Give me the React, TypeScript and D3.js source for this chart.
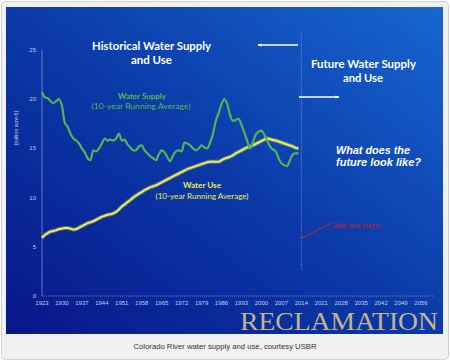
import { useEffect, useRef } from 'react';
import * as d3 from 'd3';

// Water supply, 10-year running average (million acre-ft)
const supplyYears = [
  1923, 1924, 1925, 1926, 1927, 1928, 1929, 1930, 1931, 1932, 1933, 1934, 1935, 1936, 1937, 1938, 1939, 1940,
  1941, 1942, 1943, 1944, 1945, 1946, 1947, 1948, 1949, 1950, 1951, 1952, 1953, 1954, 1955, 1956, 1957, 1958,
  1959, 1960, 1961, 1962, 1963, 1964, 1965, 1966, 1967, 1968, 1969, 1970, 1971, 1972, 1973, 1974, 1975, 1976,
  1977, 1978, 1979, 1980, 1981, 1982, 1983, 1984, 1985, 1986, 1987, 1988, 1989, 1990, 1991, 1992, 1993, 1994,
  1995, 1996, 1997, 1998, 1999, 2000, 2001, 2002, 2003, 2004, 2005, 2006, 2007, 2008, 2009, 2010, 2011, 2012, 2013,
];
const supplyValues = [
  20.7, 20.2, 20.1, 19.8, 19.6, 19.8, 20.0, 19.3, 17.6, 17.2, 16.5, 16.0, 15.8, 15.5, 15.0, 14.6, 14.0, 13.8,
  14.8, 14.7, 15.0, 15.5, 16.0, 15.8, 15.9, 15.8, 16.0, 16.5, 15.8, 15.9, 15.4, 15.1, 14.8, 14.8, 15.2, 15.3,
  14.8, 14.5, 14.2, 14.0, 13.8, 14.4, 14.8, 14.6, 14.1, 13.7, 14.3, 14.7, 14.8, 14.7, 15.6, 15.5, 15.3, 15.0,
  14.8, 15.0, 15.3, 15.1, 15.0, 15.6, 16.5, 17.8, 18.6, 19.5, 20.0, 19.5, 18.4, 17.8, 17.9, 18.0, 17.4, 16.6,
  15.8, 15.0, 15.6, 16.4, 16.7, 16.8, 16.4, 15.8, 15.2, 14.9, 14.7, 14.0, 13.5, 13.3, 13.2, 13.8, 14.4, 14.5, 14.5,
];

// Water use, 10-year running average (million acre-ft)
const useYears = supplyYears;
const useValues = [
  5.9, 6.2, 6.4, 6.55, 6.6, 6.7, 6.8, 6.85, 6.9, 6.9, 6.85, 6.75, 6.8, 6.95, 7.1, 7.25, 7.4, 7.5,
  7.6, 7.75, 7.9, 8.05, 8.15, 8.25, 8.3, 8.4, 8.55, 8.8, 9.1, 9.3, 9.55, 9.75, 10.0, 10.2, 10.4, 10.55,
  10.75, 10.9, 11.05, 11.15, 11.25, 11.4, 11.55, 11.7, 11.85, 12.0, 12.15, 12.3, 12.45, 12.6, 12.75, 12.9, 13.0, 13.1,
  13.2, 13.3, 13.4, 13.5, 13.6, 13.65, 13.65, 13.65, 13.65, 13.8, 13.95, 14.05, 14.15, 14.3, 14.5, 14.65, 14.8, 14.95,
  15.1, 15.2, 15.3, 15.45, 15.6, 15.75, 15.9, 16.0, 15.95, 15.85, 15.8, 15.7, 15.6, 15.5, 15.4, 15.3, 15.2, 15.05, 15.0,
];

const xTicks = [1923, 1930, 1937, 1944, 1951, 1958, 1965, 1972, 1979, 1986, 1993, 2000, 2007, 2014, 2021, 2028, 2035, 2042, 2049, 2056];
const yTicks = [0, 5, 10, 15, 20, 25];
const nowYear = 2014;

const W = 450;
const H = 361;

export default function App() {
  const svgRef = useRef<SVGSVGElement>(null);

  useEffect(() => {
    const svg = d3.select(svgRef.current);
    svg.selectAll('*').remove();

    const x = d3.scaleLinear().domain([1923, 2056]).range([42, 421]);
    const y = d3.scaleLinear().domain([0, 25]).range([296, 50]);

    const defs = svg.append('defs');
    const bg = defs.append('linearGradient')
      .attr('id', 'panel-bg')
      .attr('x1', '0%').attr('y1', '100%')
      .attr('x2', '100%').attr('y2', '0%');
    bg.append('stop').attr('offset', '0%').attr('stop-color', '#08168a');
    bg.append('stop').attr('offset', '50%').attr('stop-color', '#0b3aa8');
    bg.append('stop').attr('offset', '100%').attr('stop-color', '#1766d0');

    const arrow = (id: string, color: string, size: number) => {
      defs.append('marker')
        .attr('id', id)
        .attr('viewBox', '0 0 10 10')
        .attr('refX', 9).attr('refY', 5)
        .attr('markerWidth', size).attr('markerHeight', size)
        .attr('orient', 'auto-start-reverse')
        .append('path')
        .attr('d', 'M0,1 L10,5 L0,9 Z')
        .attr('fill', color);
    };
    arrow('arr-white', '#ffffff', 3);
    arrow('arr-red', '#c8202a', 3.5);

    // outer frame + blue panel
    svg.append('rect')
      .attr('x', 1.5).attr('y', 1.5).attr('width', W - 3).attr('height', H - 3)
      .attr('rx', 4)
      .attr('fill', '#f1f1f1').attr('stroke', '#d2d2d2');
    svg.append('rect')
      .attr('x', 6).attr('y', 7).attr('width', 437).attr('height', 327)
      .attr('fill', 'url(#panel-bg)');

    // axes
    const g = svg.append('g');
    g.append('line')
      .attr('x1', x(1923)).attr('x2', x(1923))
      .attr('y1', y(25)).attr('y2', y(0))
      .attr('stroke', '#8a9ad8').attr('stroke-width', 0.7);
    g.append('line')
      .attr('x1', x(1923)).attr('x2', 433)
      .attr('y1', y(0)).attr('y2', y(0))
      .attr('stroke', '#8a9ad8').attr('stroke-width', 0.8)
      .attr('stroke-dasharray', '1,1');

    g.selectAll('.ytick')
      .data(yTicks)
      .enter().append('text')
      .attr('x', 36)
      .attr('y', d => y(d) + 2)
      .attr('text-anchor', 'end')
      .style('font-family', 'Liberation Sans, Arial, sans-serif')
      .style('font-size', '6px')
      .style('fill', '#c4cce8')
      .text(d => d);

    g.selectAll('.xtick')
      .data(xTicks)
      .enter().append('text')
      .attr('x', d => x(d))
      .attr('y', 305)
      .attr('text-anchor', 'middle')
      .style('font-family', 'Liberation Sans, Arial, sans-serif')
      .style('font-size', '6px')
      .style('fill', '#c4cce8')
      .text(d => d);

    g.append('text')
      .attr('transform', `translate(18,128) rotate(-90)`)
      .attr('text-anchor', 'middle')
      .style('font-family', 'Liberation Sans, Arial, sans-serif')
      .style('font-size', '5.2px')
      .style('fill', '#c4cce8')
      .text('[million acre-ft]');

    // "now" divider
    g.append('line')
      .attr('x1', x(nowYear)).attr('x2', x(nowYear))
      .attr('y1', 33).attr('y2', 270)
      .attr('stroke', '#9fb2e6').attr('stroke-width', 0.7)
      .attr('stroke-dasharray', '1,1.2');

    const supply = supplyYears.map((yr, i) => [yr, supplyValues[i]] as [number, number]);
    const use = useYears.map((yr, i) => [yr, useValues[i]] as [number, number]);

    const line = d3.line<[number, number]>()
      .x(d => x(d[0]))
      .y(d => y(d[1]))
      .curve(d3.curveMonotoneX);

    g.append('path')
      .datum(use)
      .attr('fill', 'none')
      .attr('stroke', '#f0f27a')
      .attr('stroke-opacity', 0.35)
      .attr('stroke-width', 4)
      .attr('d', line);
    g.append('path')
      .datum(use)
      .attr('fill', 'none')
      .attr('stroke', '#eef046')
      .attr('stroke-width', 2)
      .attr('d', line);

    g.append('path')
      .datum(supply)
      .attr('fill', 'none')
      .attr('stroke', '#54b250')
      .attr('stroke-width', 2.2)
      .attr('stroke-linejoin', 'round')
      .attr('d', line);

    // texts
    const txt = (
      s: string, tx: number, ty: number, size: number, color: string,
      opts: { bold?: boolean; italic?: boolean; anchor?: string; len?: number; family?: string } = {}
    ) => {
      const t = g.append('text')
        .attr('x', tx).attr('y', ty)
        .attr('text-anchor', opts.anchor || 'middle')
        .style('font-family', opts.family || 'Lato, "Open Sans", sans-serif')
        .style('font-size', `${size}px`)
        .style('font-weight', opts.bold ? 'bold' : 'normal')
        .style('font-style', opts.italic ? 'italic' : 'normal')
        .style('fill', color)
        .text(s);
      if (opts.len) t.attr('textLength', opts.len).attr('lengthAdjust', 'spacingAndGlyphs');
      return t;
    };

    txt('Historical Water Supply', 151.5, 50, 11.5, '#ffffff', { bold: true, len: 119 });
    txt('and Use', 151.5, 64, 11.5, '#ffffff', { bold: true, len: 41 });
    txt('Future Water Supply', 363.5, 68, 11, '#ffffff', { bold: true, len: 105 });
    txt('and Use', 363, 82, 11, '#ffffff', { bold: true, len: 40 });
    txt('What does the', 336, 154, 10, '#ffffff', { bold: true, italic: true, anchor: 'start', len: 74, family: 'Liberation Sans, Arial, sans-serif' });
    txt('future look like?', 336, 166, 10, '#ffffff', { bold: true, italic: true, anchor: 'start', len: 85, family: 'Liberation Sans, Arial, sans-serif' });

    txt('Water Supply', 142, 99, 7, '#5cb84c', { bold: true, len: 48 });
    txt('(10-year Running Average)', 141, 109, 7, '#5cb84c', { len: 99 });
    txt('Water Use', 202, 188, 7.5, '#eef046', { bold: true, len: 38 });
    txt('(10-year Running Average)', 202, 199, 7, '#eef046', { len: 93 });

    // arrows
    g.append('line')
      .attr('x1', 298).attr('x2', 258).attr('y1', 45).attr('y2', 45)
      .attr('stroke', '#ffffff').attr('stroke-width', 1.3)
      .attr('marker-end', 'url(#arr-white)');
    g.append('line')
      .attr('x1', 299).attr('x2', 339).attr('y1', 97).attr('y2', 97)
      .attr('stroke', '#ffffff').attr('stroke-width', 1.3)
      .attr('marker-end', 'url(#arr-white)');

    g.append('line')
      .attr('x1', 332).attr('y1', 223).attr('x2', 302).attr('y2', 238)
      .attr('stroke', '#c8202a').attr('stroke-width', 1)
      .attr('marker-end', 'url(#arr-red)');
    txt('We are here', 333, 228, 6.5, '#c8202a', { anchor: 'start', len: 47, family: 'Liberation Sans, Arial, sans-serif' });

    // branding + caption
    txt('RECLAMATION', 339, 329.5, 25.5, '#c2b48c', { len: 198, family: '"Liberation Serif", "Times New Roman", serif' });
    svg.append('text')
      .attr('x', 225).attr('y', 349)
      .attr('text-anchor', 'middle')
      .style('font-family', 'Liberation Sans, Arial, sans-serif')
      .style('font-size', '7.3px')
      .style('fill', '#333333')
      .attr('textLength', 183)
      .attr('lengthAdjust', 'spacingAndGlyphs')
      .text('Colorado River water supply and use, courtesy USBR');
  }, []);

  return (
    <div style={{ position: 'absolute', left: 0, top: 0, width: W, height: H }}>
      <svg ref={svgRef} width={W} height={H} style={{ display: 'block' }}></svg>
    </div>
  );
}
